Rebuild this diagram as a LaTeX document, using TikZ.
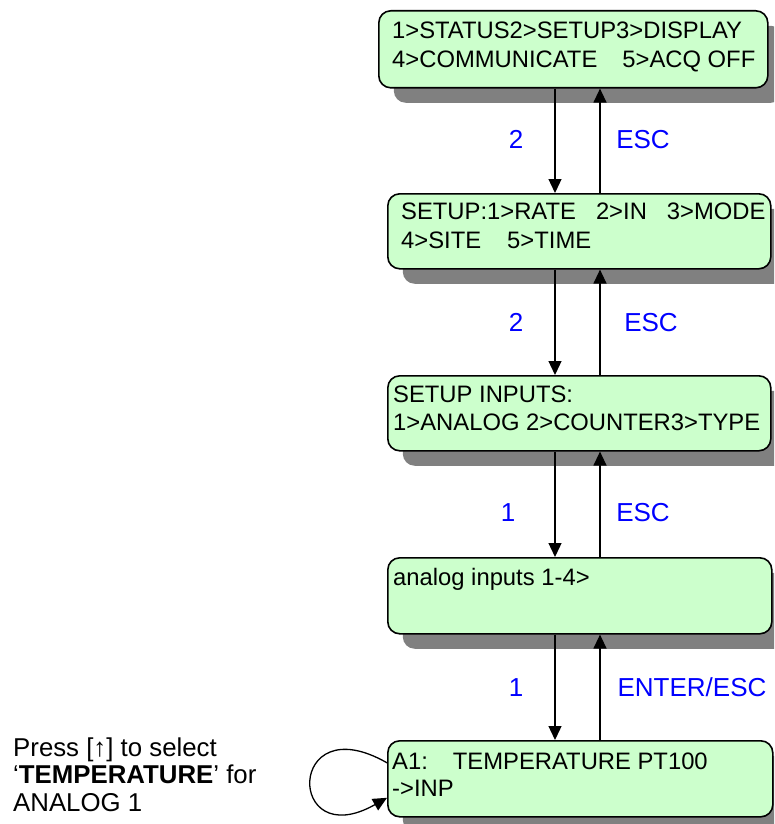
\documentclass[tikz,border=0pt]{standalone}
\usepackage{fontspec}
\setmainfont{Liberation Sans}
\usetikzlibrary{arrows.meta,shadows}
\definecolor{boxfill}{HTML}{CCFFCC}
\definecolor{shadowgray}{HTML}{808080}
\definecolor{lblblue}{HTML}{0000FF}
\begin{document}
\begin{tikzpicture}[x=1pt,y=-1pt,
  box/.style={draw=black, line width=1.6pt, fill=boxfill, rounded corners=12pt,
    inner sep=0pt, anchor=north west,
    general shadow={fill=shadowgray, shadow xshift=15pt, shadow yshift=-15pt}},
  boxtxt/.style={anchor=base west, inner sep=0pt, font=\fontsize{23.8}{28}\selectfont},
  lbl/.style={anchor=base, inner sep=0pt, text=lblblue, font=\fontsize{26}{30}\selectfont},
  arr/.style={line width=1.3pt, -{Triangle[length=14pt,width=13pt]}},
  note/.style={anchor=base west, inner sep=0pt, font=\fontsize{25.8}{28}\selectfont}]
\useasboundingbox (0,0) rectangle (774,824);
\clip (0,0) rectangle (774,824);

% boxes
\node[box, minimum width=389pt, minimum height=77pt] (b1) at (378,10) {};
\node[box, minimum width=383pt, minimum height=75pt] (b2) at (387,193) {};
\node[box, minimum width=383pt, minimum height=75pt] (b3) at (387,375) {};
\node[box, minimum width=384pt, minimum height=76pt] (b4) at (387,557) {};
\node[box, minimum width=385pt, minimum height=76pt] (b5) at (387,740) {};

% box texts
\node[boxtxt] (t1a) at (392,39) {1>STATUS2>SETUP3>DISPLAY};
\node[boxtxt] (t1b) at (392,68) {4>COMMUNICATE\hspace{25pt}5>ACQ OFF};
\node[boxtxt] (t2a) at (401,219) {SETUP:1>RATE\hspace{20pt}2>IN\hspace{20pt}3>MODE};
\node[boxtxt] (t2b) at (401,248) {4>SITE\hspace{26pt}5>TIME};
\node[boxtxt] (t3a) at (393,402) {SETUP INPUTS:};
\node[boxtxt] (t3b) at (393,430) {1>ANALOG 2>COUNTER3>TYPE};
\node[boxtxt] (t4a) at (393,585) {analog inputs 1-4>};
\node[boxtxt] (t5a) at (392,769) {A1:\hspace{25pt}TEMPERATURE PT100};
\node[boxtxt] (t5b) at (392,796) {->INP};

% arrow columns
\coordinate (xd) at (555,0);
\coordinate (xu) at (600,0);

\draw[arr] (b1.south -| xd) -- (b2.north -| xd);
\draw[arr] (b2.north -| xu) -- (b1.south -| xu);
\draw[arr] (b2.south -| xd) -- (b3.north -| xd);
\draw[arr] (b3.north -| xu) -- (b2.south -| xu);
\draw[arr] (b3.south -| xd) -- (b4.north -| xd);
\draw[arr] (b4.north -| xu) -- (b3.south -| xu);
\draw[arr] (b4.south -| xd) -- (b5.north -| xd);
\draw[arr] (b5.north -| xu) -- (b4.south -| xu);

% labels
\node[lbl] (l1) at (516,149) {2};
\node[lbl] (l2) at (643,149) {ESC};
\node[lbl] (l3) at (516,331) {2};
\node[lbl] (l4) at (651,331) {ESC};
\node[lbl] (l5) at (508,521) {1};
\node[lbl] (l6) at (643,521) {ESC};
\node[lbl] (l7) at (516,696) {1};
\node[lbl] (l8) at (692,696) {ENTER/ESC};

% self loop
\draw[arr] ([yshift=16pt]b5.west) .. controls (286,705) and (286,855) .. ([yshift=-19pt]b5.west);

% note
\node[note] (n1) at (13,756) {Press [↑] to select};
\node[note] (n2) at (13,783) {‘\textbf{TEMPERATURE}’ for};
\node[note] (n3) at (13,811) {ANALOG 1};
\end{tikzpicture}
\end{document}
